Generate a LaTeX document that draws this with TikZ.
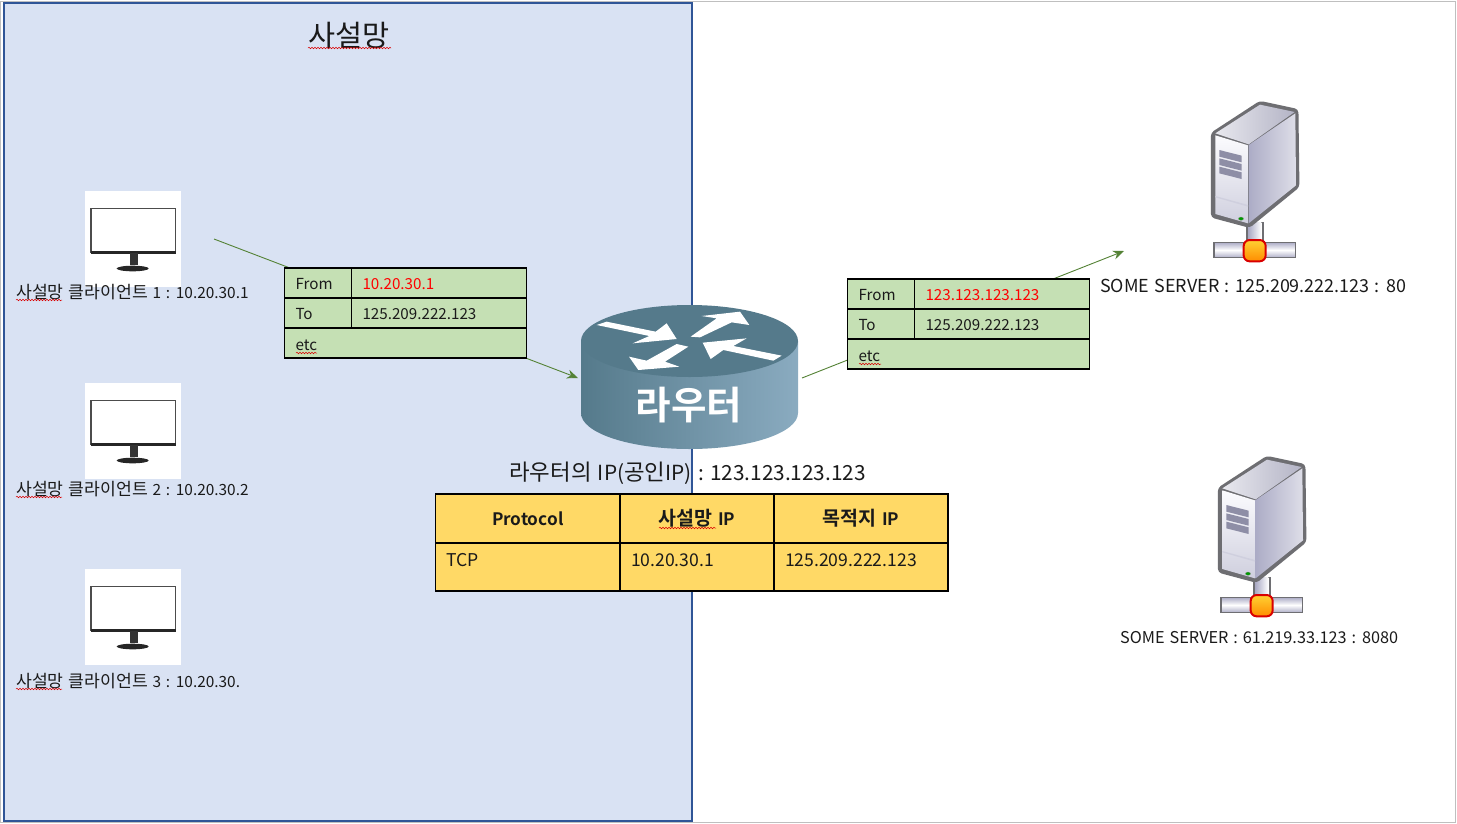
\documentclass[tikz,border=0pt]{standalone}
\usepackage{fontspec}
\setmainfont{Noto Sans CJK KR}[BoldFont={Noto Sans CJK KR Bold},WordSpace=1.35]
\usetikzlibrary{arrows.meta,decorations.pathmorphing,shapes.geometric}
\definecolor{privbg}{HTML}{D9E2F3}
\definecolor{privline}{HTML}{2F5597}
\definecolor{linkgreen}{HTML}{548235}
\definecolor{cellgreen}{HTML}{C5E0B4}
\definecolor{cellyellow}{HTML}{FFD966}
\definecolor{routertop}{HTML}{557A8B}
\definecolor{routerright}{HTML}{8AABC0}
\definecolor{ink}{HTML}{1A1A1A}
\definecolor{srvline}{HTML}{6E6E72}
\definecolor{srvtopa}{HTML}{E8E8EE}
\definecolor{srvtopb}{HTML}{B4B4C6}
\definecolor{srvfronta}{HTML}{FBFBFE}
\definecolor{srvfrontb}{HTML}{CFCFDE}
\definecolor{srvsidea}{HTML}{ACACC6}
\definecolor{srvsideb}{HTML}{DEDEE8}
\definecolor{srvvent}{HTML}{8E8EA6}
\newcommand\kl[1]{{\fontsize{17.2}{18}\selectfont #1}}
\newcommand\kip[1]{{\fontsize{22.4}{24}\selectfont #1}}
\newcommand\khd[1]{{\fontsize{19.5}{20}\selectfont #1}}
\tikzset{
  x=1pt,y=-1pt,
  cell/.style 2 args={draw=black,line width=1.5pt,outer sep=0pt,minimum width=#1,minimum height=#2,text width=#1-22pt,
    inner xsep=11pt,inner ysep=0pt,anchor=north west,align=left,text=ink,font=\fontsize{15.2}{18}\selectfont},
  greencell/.style={fill=cellgreen,text height=13pt,text depth=0pt},
  etccell/.style={fill=cellgreen,text height=15pt,text depth=0pt},
  yellowcell/.style={fill=cellyellow},
  link/.style={draw=linkgreen,line width=.9pt},
  label/.style={anchor=west,inner sep=0pt,text=ink},
  squiggle/.style={draw=red!85!black,line width=.5pt,decorate,decoration={snake,amplitude=.8pt,segment length=3pt,post length=0pt}},
  pics/monitor/.style={code={
    \fill[white] (85,191) rectangle (181,287);
    \draw[draw=black!70,fill=white,line width=1.2pt] (91,208.5) rectangle (175.5,252);
    \fill[black!85] (90.5,250.5) rectangle (176,253.5);
    \fill[black!80] (129.5,253) rectangle (137.5,265);
    \fill[black!85] (132.7,268.5) ellipse [x radius=16,y radius=2.8];
  }},
  pics/server/.style={code={
    \begin{scope}[shift={(1190,90)},scale=1/3]
      \fill[srvline] (168,395) rectangle (222,460);
      \shade[left color=srvsidea,right color=white] (176,398) rectangle (214,456);
      \draw[draw=srvline,line width=1.6pt,top color=srvsidea,bottom color=srvsidea,middle color=white] (72,457) rectangle (317,503);
      \draw[draw=srvline,fill=srvline,line width=2.2pt,line join=round,rounded corners=3pt]
        (66,130) -- (210,36) -- (322,60) -- (325,290) -- (178,410) -- (66,380) -- cycle;
      \shade[left color=srvtopa,right color=srvtopb] (76,130) -- (210,44) -- (314,66) -- (176,163) -- cycle;
      \shade[top color=srvfronta,bottom color=srvfrontb] (76,136) -- (174,166) -- (174,400) -- (76,372) -- cycle;
      \shade[left color=srvsidea,right color=srvsideb] (176,165) -- (316,70) -- (318,286) -- (176,400) -- cycle;
      \foreach \d in {0,25,50}{\fill[srvvent] (88,180+\d) -- (155,197+\d) -- (155,217+\d) -- (88,200+\d) -- cycle;}
      \fill[srvfrontb] (76,318) -- (174,345) -- (174,350) -- (76,322) -- cycle;
      \fill[green!60!black,draw=black!40,line width=.3pt] (153,386) ellipse [x radius=8,y radius=5];
      \draw[draw=red!85!black,line width=2pt,rounded corners=6pt,top color=yellow!55!orange!80,bottom color=orange!90!yellow] (161,450) rectangle (227,514);
    \end{scope}
  }},
}
\begin{document}
\begin{tikzpicture}
\useasboundingbox (0,0) rectangle (1457,823);
\draw[draw=black!25,fill=white,line width=1pt] (.5,1.5) rectangle (1455,822);
\node[draw=privline,fill=privbg,line width=2pt,outer sep=0pt,rectangle,anchor=north west,minimum width=688.5pt,minimum height=818pt,inner sep=0pt] (privnet) at (3.5,3) {};
\node[label,font=\fontsize{29.4}{32}\selectfont] (title) at (308,35) {사설망};

\pic at (0,0) {monitor};
\pic at (0,192) {monitor};
\pic at (0,378) {monitor};
\node[label,font=\fontsize{15.4}{18}\selectfont] (c1) at (16,292.5) {\kl{사설망 클라이언트} 1 : 10.20.30.1};
\node[label,font=\fontsize{15.4}{18}\selectfont] (c2) at (16,489.5) {\kl{사설망 클라이언트} 2 : 10.20.30.2};
\node[label,font=\fontsize{15.4}{18}\selectfont] (c3) at (16,681.5) {\kl{사설망 클라이언트} 3 : 10.20.30.};

\coordinate (linkA) at (214,239);
\coordinate (linkB) at (578,378);
\coordinate (linkC) at (802,378);
\coordinate (linkD) at (1124,251);
\draw[link,-{Stealth[length=11pt,width=9pt]}] (linkA) -- (linkB);
\draw[link,-{Stealth[length=11pt,width=9pt]}] (linkC) -- (linkD);

% table 1
\node[cell={67pt}{30pt},greencell] (t1a) at (284.5,268) {From};
\node[cell={175pt}{30pt},greencell,text=red] (t1b) at (351.5,268) {10.20.30.1};
\node[cell={67pt}{30pt},greencell] (t1c) at (284.5,298) {To};
\node[cell={175pt}{30pt},greencell] (t1d) at (351.5,298) {125.209.222.123};
\node[cell={242pt}{30pt},etccell] (t1e) at (284.5,328) {etc};
% table 2
\node[cell={67pt}{30pt},greencell] (t2a) at (847.5,279) {From};
\node[cell={175pt}{30pt},greencell,text=red] (t2b) at (914.5,279) {123.123.123.123};
\node[cell={67pt}{30pt},greencell] (t2c) at (847.5,309) {To};
\node[cell={175pt}{30pt},greencell] (t2d) at (914.5,309) {125.209.222.123};
\node[cell={242pt}{30pt},etccell] (t2e) at (847.5,339) {etc};

% router
\shade[left color=routertop,right color=routerright] (581,341) -- (581,413) arc[start angle=180,end angle=360,x radius=108.5,y radius=-36] -- (798,341) -- cycle;
\fill[routertop] (689.5,341) ellipse [x radius=108.5,y radius=36];
\node[inner sep=0pt,text=white,font=\fontsize{38.6}{44}\selectfont\bfseries] (router) at (689,405) {라우터};
\begin{scope}[shift={(560,290)},scale=1/3]
  \fill[white] (110,105) -- (140,95) -- (287,125) -- (320,100) -- (350,147) -- (218,160) -- (268,138) -- cycle;
  \fill[white] (392,140) -- (470,85) -- (425,78) -- (540,65) -- (568,105) -- (515,97) -- (420,142) -- cycle;
  \fill[white] (350,162) -- (385,170) -- (315,215) -- (358,230) -- (235,240) -- (207,200) -- (260,212) -- cycle;
  \fill[white] (428,158) -- (560,145) -- (520,168) -- (665,197) -- (640,212) -- (490,180) -- (452,207) -- cycle;
\end{scope}
\node[label,font=\fontsize{20.8}{24}\selectfont] (routerip) at (509,473) {\kip{라우터의} IP(\kip{공인}IP) : 123.123.123.123};

% NAT table
\node[cell={184.5pt}{49pt},yellowcell,align=center,font=\fontsize{17.2}{20}\selectfont\bfseries] (n1) at (435.5,494) {Protocol};
\node[cell={154pt}{49pt},yellowcell,align=center,font=\fontsize{17.2}{20}\selectfont\bfseries] (n2) at (620,494) {\khd{사설망} IP};
\node[cell={174pt}{49pt},yellowcell,align=center,font=\fontsize{17.2}{20}\selectfont\bfseries] (n3) at (774,494) {\khd{목적지} IP};
\node[cell={184.5pt}{48pt},yellowcell,font=\fontsize{17.6}{20}\selectfont,text depth=17pt,text height=15pt] (n4) at (435.5,543) {TCP};
\node[cell={154pt}{48pt},yellowcell,font=\fontsize{17.6}{20}\selectfont,text depth=17pt,text height=15pt] (n5) at (620,543) {10.20.30.1};
\node[cell={174pt}{48pt},yellowcell,font=\fontsize{17.6}{20}\selectfont,text depth=17pt,text height=15pt] (n6) at (774,543) {125.209.222.123};

% servers
\pic at (0,0) {server};
\pic at (7,355) {server};
\node[label,font=\fontsize{17.9}{22}\selectfont] (s1) at (1100,286) {SOME SERVER : 125.209.222.123 : 80};
\node[label,font=\fontsize{16.25}{20}\selectfont] (s2) at (1120,638) {SOME SERVER : 61.219.33.123 : 8080};

% spell-check underlines
\draw[squiggle] (308,48) -- (391,48);
\draw[squiggle] (16,300) -- (62,300);
\draw[squiggle] (16,497) -- (62,497);
\draw[squiggle] (16,689) -- (62,689);
\draw[squiggle] (296,353) -- (317,353);
\draw[squiggle] (859,364) -- (881,364);
\draw[squiggle] (659,528) -- (716,528);
\end{tikzpicture}
\end{document}
